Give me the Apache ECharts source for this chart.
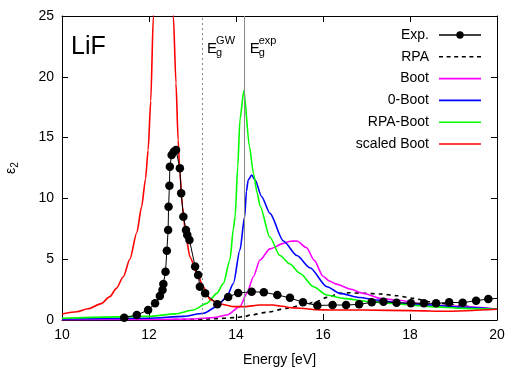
<!DOCTYPE html>
<html><head><meta charset="utf-8">
<script src="https://cdn.jsdelivr.net/npm/echarts@6/dist/echarts.min.js"></script>
<style>html,body{margin:0;padding:0;background:#fff}#c{width:525px;height:367px}</style>
</head><body><div id="c"></div>
<script>
const xTicks = [10, 12, 14, 16, 18, 20];
const yTicks = [0, 5, 10, 15, 20, 25];
const gapGW = 13.22, gapExp = 14.2;

const expX = [11.43,11.72,11.98,12.14,12.25,12.31,12.33,12.38,12.41,12.44,12.45,12.47,12.48,12.52,12.57,12.62,12.71,12.74,12.79,12.85,12.88,12.93,13.06,13.13,13.17,13.29,13.57,13.82,14.05,14.36,14.64,14.95,15.24,15.54,15.87,16.22,16.53,16.83,17.12,17.39,17.69,18.02,18.32,18.60,18.90,19.21,19.52,19.80,20.1];
const expY = [0.19,0.41,0.82,1.37,1.97,2.47,2.96,3.97,5.70,7.40,9.32,11.05,12.61,13.57,13.84,13.98,12.47,10.42,8.50,7.40,6.99,6.58,4.39,3.70,2.74,2.19,1.30,1.90,2.22,2.33,2.28,2.06,1.82,1.45,1.19,1.23,1.23,1.29,1.45,1.51,1.42,1.37,1.37,1.37,1.45,1.42,1.59,1.73,1.8];

const rpaX = [10,12,13,13.5,14,14.2,14.35,14.7,15.16,15.54,15.85,16.09,16.39,16.6,16.93,17.31,17.69,18.08,18.46,18.84,19.23,19.61,20];
const rpaY = [0,0,0.05,0.1,0.2,0.3,0.42,0.63,0.96,1.23,1.5,1.86,2.19,2.24,2.2,2.14,2.0,1.78,1.5,1.32,1.15,0.97,0.88];

const bootX = [10,12,13,13.5,13.79,14.09,14.25,14.4,14.55,14.78,15.09,15.25,15.4,15.62,15.8,16.0,16.15,16.31,16.62,16.93,17.31,17.69,18.46,19.23,20];
const bootY = [0.03,0.04,0.08,0.2,0.41,1.1,2.19,3.56,4.93,5.85,6.3,6.48,6.5,5.95,4.9,3.6,3.2,2.95,2.55,2.19,1.78,1.64,1.23,1.1,0.88];

const zeroX = [10,12,12.8,13.25,13.56,13.79,13.94,14.09,14.2,14.24,14.28,14.36,14.44,14.59,14.78,15.09,15.4,15.7,16.09,16.39,16.85,17.23,17.69,18.46,19.23,20];
const zeroY = [0.08,0.15,0.3,0.55,1.1,1.92,3.0,5.76,8.5,10.6,11.51,11.92,11.51,10.14,8.77,6.5,5.3,4.3,2.74,2.19,1.85,1.64,1.42,1.23,1.04,0.88];

const rbX = [10,12,12.6,13.02,13.33,13.56,13.71,13.86,13.94,13.98,14.04,14.09,14.18,14.31,14.4,14.49,14.55,14.78,15.01,15.24,15.47,15.78,16.09,16.47,17.08,17.69,18.46,19.23,20];
const rbY = [0.15,0.3,0.5,0.82,1.37,2.19,3.0,4.93,7.5,8.5,12.6,16.45,18.86,14.25,12.06,10.42,9.4,6.8,5.3,4.6,3.84,2.74,2.06,1.78,1.51,1.32,1.1,0.96,0.88];

const redX = [10,10.34,10.6,10.9,11.1,11.25,11.41,11.56,11.72,11.83,11.92,11.98,12.04,12.1,12.2,12.33,12.45,12.56,12.62,12.67,12.71,12.77,12.85,12.94,13.1,13.25,13.4,13.63,13.94,14.2,14.55,14.86,15.01,15.32,15.62,15.85,16.16,16.93,18.08,18.84,20];
const redY = [0.49,0.68,0.92,1.35,1.92,2.6,3.56,5.0,7.2,9.3,11.6,13.98,18.0,25,32,36,31,25,19.5,14.8,12.06,9.32,6.85,5.2,3.84,2.74,1.7,1.32,1.1,1.1,1.23,1.23,1.15,1.0,0.93,0.84,0.82,0.82,0.77,0.72,0.88];

const zip = (a, b) => a.map((v, i) => [v, b[i]]);
const font = 'Liberation Sans, Arial, Helvetica, sans-serif';

const chart = echarts.init(document.getElementById('c'), null, {renderer: 'canvas'});
const axisCommon = {
  axisLine: {show: true, onZero: false, lineStyle: {color: '#000', width: 1}},
  axisTick: {show: true, inside: true, length: 6, lineStyle: {color: '#000'}},
  splitLine: {show: false}
};
const lineS = (name, x, y, color, extra) => Object.assign({
  name, type: 'line', data: zip(x, y), showSymbol: false, symbol: 'none',
  smooth: 0.25, smoothMonotone: 'x',
  lineStyle: {color, width: 1.6}, itemStyle: {color}, clip: true, z: 3, animation: false
}, extra || {});

const iconLine = 'path://M0,0H42V1.6H0Z';
const iconDash = 'path://M0,0h4v1.6h-4z M7.6,0h4v1.6h-4z M15.2,0h4v1.6h-4z M22.8,0h4v1.6h-4z M30.4,0h4v1.6h-4z M38,0h4v1.6h-4z';
const iconExp = 'path://M0,3.3H42V4.7H0Z M21,0.3A3.7,3.7 0 1,1 21,7.7A3.7,3.7 0 1,1 21,0.3Z';

chart.setOption({
  animation: false,
  grid: {left: 62, right: 28, top: 16, bottom: 47, containLabel: false, outerBoundsMode: 'none'},
  legend: {
    orient: 'vertical', right: 44, top: 28, align: 'right', padding: 0,
    itemWidth: 42, itemHeight: 14, itemGap: 7.8,
    textStyle: {fontFamily: font, fontSize: 14, color: '#000', padding: [0, 5, 0, 0]},
    data: [
      {name: 'Exp.', icon: iconExp},
      {name: 'RPA', icon: iconDash},
      {name: 'Boot', icon: iconLine},
      {name: '0-Boot', icon: iconLine},
      {name: 'RPA-Boot', icon: iconLine},
      {name: 'scaled Boot', icon: iconLine}
    ]
  },
  xAxis: [
    Object.assign({type: 'value', min: 10, max: 20, interval: 2, position: 'bottom',
      name: 'Energy [eV]', nameLocation: 'middle', nameGap: 33,
      nameTextStyle: {fontFamily: font, fontSize: 14, color: '#000'},
      axisLabel: {fontFamily: font, fontSize: 14, color: '#000', margin: 8,
        formatter: v => xTicks.includes(v) ? String(v) : ''}}, axisCommon),
    Object.assign({type: 'value', min: 10, max: 20, interval: 2, position: 'top',
      axisLabel: {show: false}}, axisCommon)
  ],
  yAxis: [
    Object.assign({type: 'value', min: 0, max: 25, interval: 5, position: 'left',
      name: '{e|ε}{s|2}', nameLocation: 'middle', nameGap: 42, nameRotate: 90,
      nameTextStyle: {rich: {e: {fontFamily: font, fontSize: 14, color: '#000'},
        s: {fontFamily: font, fontSize: 10, color: '#000', verticalAlign: 'bottom', padding: [8, 0, 0, 0]}}},
      axisLabel: {fontFamily: font, fontSize: 14, color: '#000', margin: 8,
        formatter: v => yTicks.includes(v) ? String(v) : ''}}, axisCommon),
    Object.assign({type: 'value', min: 0, max: 25, interval: 5, position: 'right',
      axisLabel: {show: false}}, axisCommon)
  ],
  series: [
    {
      name: 'Exp.', type: 'line', data: zip(expX, expY), symbol: 'circle', symbolSize: 8.5,
      showSymbol: true, clip: true, lineStyle: {color: '#000', width: 1}, itemStyle: {color: '#000'}, z: 5,
      markLine: {
        silent: true, symbol: 'none', label: {show: false}, animation: false,
        data: [
          {xAxis: gapGW, lineStyle: {color: '#888', width: 1, type: [2, 3]}},
          {xAxis: gapExp, lineStyle: {color: '#888', width: 1, type: 'solid'}}
        ]
      }
    },
    lineS('RPA', rpaX, rpaY, '#000', {lineStyle: {color: '#000', width: 1.6, type: [4, 4]}}),
    lineS('Boot', bootX, bootY, '#ff00ff'),
    lineS('0-Boot', zeroX, zeroY, '#0000ff'),
    lineS('RPA-Boot', rbX, rbY, '#00ff00'),
    lineS('scaled Boot', redX, redY, '#ff0000')
  ]
});

const px1 = chart.convertToPixel({xAxisIndex: 0}, gapGW);
const px2 = chart.convertToPixel({xAxisIndex: 0}, gapExp);
const txt = (x, y, s, size) => ({type: 'text', left: x, top: y, silent: true,
  style: {text: s, font: size + 'px ' + font, fill: '#000'}});
chart.setOption({graphic: [
  txt(71, 35, 'LiF', 25),
  txt(px1 + 5, 41, 'E', 15), txt(px1 + 14, 47, 'g', 11), txt(px1 + 14, 35, 'GW', 11),
  txt(px2 + 5, 41, 'E', 15), txt(px2 + 14, 47, 'g', 11), txt(px2 + 14, 35, 'exp', 11)
]});
</script></body></html>
